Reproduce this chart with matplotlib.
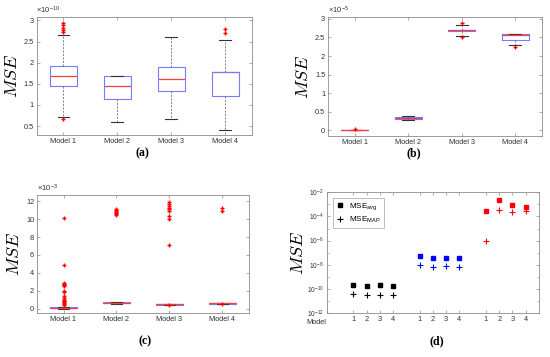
import matplotlib.pyplot as plt
import matplotlib.transforms as mtransforms
from matplotlib.ticker import FixedLocator, NullFormatter

plt.rcParams['font.family'] = ['Liberation Sans', 'DejaVu Sans']
plt.rcParams['mathtext.fontset'] = 'cm'

models = ['Model 1', 'Model 2', 'Model 3', 'Model 4']

# (a) box statistics, units of 1e-10
a_whislo = [0.72, 0.60, 0.67, 0.41]
a_q1 = [1.44, 1.13, 1.33, 1.22]
a_med = [1.68, 1.45, 1.62, 1.77]
a_q3 = [1.91, 1.68, 1.89, 1.77]
a_whishi = [2.65, 1.68, 2.61, 2.53]
a_fliers = [[2.94, 2.88, 2.83, 2.78, 2.73, 0.68], [], [], [2.80, 2.70]]

# (b) box statistics, units of 1e-5
b_whislo = [0.0, 0.28, 2.53, 2.29]
b_q1 = [0.0, 0.30, 2.68, 2.44]
b_med = [0.0, 0.33, 2.69, 2.57]
b_q3 = [0.005, 0.36, 2.70, 2.58]
b_whishi = [0.01, 0.38, 2.84, 2.58]
b_fliers = [[0.04], [], [2.89, 2.50], [2.24]]

# (c) box statistics, units of 1e-3
c_whislo = [0.0, 0.55, 0.44, 0.55]
c_q1 = [0.02, 0.58, 0.45, 0.56]
c_med = [0.08, 0.64, 0.47, 0.58]
c_q3 = [0.15, 0.70, 0.48, 0.59]
c_whishi = [0.20, 0.72, 0.50, 0.60]
c_fliers = [
    [10.1, 4.82, 2.9, 2.8, 2.7, 2.6, 2.5, 2.0, 1.9, 1.4, 1.2, 1.0, 0.9, 0.8, 0.7, 0.6, 0.5, 0.4],
    [10.5, 10.6, 10.7, 10.8, 10.9, 11.0, 11.1],
    [11.9, 11.7, 11.5, 11.3, 11.1, 10.9, 10.4, 10.0, 7.1, 0.42],
    [11.2, 10.9, 0.53],
]

# (d) MSE per model, three groups
d_ticks = ['1', '2', '3', '4']
d_avg = [
    [1.9e-10, 1.7e-10, 1.9e-10, 1.8e-10],
    [4.8e-8, 3.3e-8, 3.8e-8, 3.3e-8],
    [2.7e-4, 2.5e-3, 8.5e-4, 6.2e-4],
]
d_map = [
    [3.9e-11, 3.4e-11, 3.0e-11, 3.0e-11],
    [9.4e-9, 6.4e-9, 7.8e-9, 6.8e-9],
    [9.7e-7, 3.3e-4, 2.3e-4, 2.6e-4],
]
d_exps = [-12, -10, -8, -6, -4, -2]

TICK_FS = 5.3
GRAY = '#303030'
EDGE = '#8c8c8c'


def style_axes(ax):
    for s in ax.spines.values():
        s.set_color(EDGE)
        s.set_linewidth(0.6)
    ax.tick_params(direction='in', top=True, right=True, length=2,
                   width=0.5, color=EDGE, labelsize=TICK_FS,
                   labelcolor=GRAY, pad=2)
    ax.set_ylabel('$MSE$', fontsize=13, labelpad=2)


def draw_box(ax, whislo, q1, med, q3, whishi, fliers, med_z=2.1):
    stats = []
    for i, name in enumerate(models):
        stats.append(dict(label=name, whislo=whislo[i], q1=q1[i], med=med[i],
                          q3=q3[i], whishi=whishi[i], fliers=fliers[i]))
    ax.bxp(stats, widths=0.5, capwidths=0.22,
           boxprops=dict(color='#7a7aff', linewidth=0.8),
           medianprops=dict(color='#ff3b3b', linewidth=0.9, zorder=med_z),
           whiskerprops=dict(color='#555555', linewidth=0.5, linestyle=(0, (3, 2))),
           capprops=dict(color='#333333', linewidth=0.8),
           flierprops=dict(marker='+', color='red', markeredgecolor='red',
                           markerfacecolor='red', markersize=2.8,
                           markeredgewidth=1.0, linestyle='none', zorder=3))
    style_axes(ax)


def scale_text(ax, exp):
    ax.text(0.0, 1.01, r'$\mathregular{\times 10^{%d}}$' % exp,
            transform=ax.transAxes, fontsize=5.5, color=GRAY,
            ha='left', va='bottom')


fig = plt.figure(figsize=(5.5, 3.57), dpi=100)
W, H = 550, 357


def add_axes(l, r, t, b):
    return fig.add_axes([l / W, 1 - b / H, (r - l) / W, (b - t) / H])


# (a)
ax = add_axes(36.5, 252, 17, 135)
draw_box(ax, a_whislo, a_q1, a_med, a_q3, a_whishi, a_fliers, med_z=1.9)
ax.set_ylim(0.29, 3.08)
ax.set_yticks([0.5, 1, 1.5, 2, 2.5, 3])
ax.set_yticklabels(['0.5', '1', '1.5', '2', '2.5', '3'])
scale_text(ax, -10)

# (b)
ax = add_axes(328, 542, 17, 136)
draw_box(ax, b_whislo, b_q1, b_med, b_q3, b_whishi, b_fliers)
ax.set_ylim(-0.15, 3.05)
ax.set_yticks([0, 0.5, 1, 1.5, 2, 2.5, 3])
ax.set_yticklabels(['0', '0.5', '1', '1.5', '2', '2.5', '3'])
scale_text(ax, -5)

# (c)
ax = add_axes(37, 249, 195, 313)
draw_box(ax, c_whislo, c_q1, c_med, c_q3, c_whishi, c_fliers)
ax.set_ylim(-0.5, 12.7)
ax.set_yticks([0, 2, 4, 6, 8, 10, 12])
scale_text(ax, -3)

# (d)
ax = add_axes(326.7, 539, 192.3, 313)
colors = ['black', 'blue', 'red']
xt, xl = [-1], ['Model']
for g in range(3):
    xs = [5 * g + 1 + k for k in range(4)]
    xt += xs
    xl += d_ticks
    ax.plot(xs, d_avg[g], 's', color=colors[g], markersize=2.8,
            label=r'MSE$_{\mathregular{avg}}$' if g == 0 else None)
    ax.plot(xs, d_map[g], '+', color=colors[g], markersize=4.5,
            markeredgewidth=0.8,
            label=r'MSE$_{\mathregular{MAP}}$' if g == 0 else None)
ax.set_yscale('log')
ax.set_xlim(-1, 15)
ax.set_ylim(1e-12, 1e-2)
ax.yaxis.set_major_locator(FixedLocator([10.0 ** e for e in d_exps]))
ax.yaxis.set_minor_locator(FixedLocator([10.0 ** (e + 1) for e in d_exps[:-1]]))
ax.yaxis.set_minor_formatter(NullFormatter())
ax.set_yticklabels([r'$\mathregular{10^{%d}}$' % e for e in d_exps])
ax.set_xticks(xt)
ax.set_xticklabels(xl)
style_axes(ax)
ax.tick_params(axis='y', which='both', labelsize=4.8)
ax.tick_params(axis='y', which='minor', direction='in', length=1.2, right=True,
               width=0.4, color=EDGE)
lab0 = ax.get_xticklabels()[0]
lab0.set_horizontalalignment('right')
lab0.set_transform(lab0.get_transform() +
                   mtransforms.ScaledTranslation(0, -2 / 72, fig.dpi_scale_trans))
ax.set_ylabel('$MSE$', fontsize=13, labelpad=0)
leg = ax.legend(loc='upper left', fontsize=5.8, frameon=True, handlelength=1,
                handletextpad=0.6, borderpad=0.4, labelspacing=0.3,
                bbox_to_anchor=(0.01, 0.985))
leg.get_frame().set_edgecolor(EDGE)
leg.get_frame().set_linewidth(0.5)
leg.get_frame().set_boxstyle('square', pad=0)

# sub-figure labels
for x, y, t in [(142, 153, '(a)'), (414, 153, '(b)'),
                (145, 341, '(c)'), (437, 341, '(d)')]:
    fig.text(x / W, 1 - y / H, t, ha='center', va='center', fontsize=8.5,
             family='Liberation Serif', fontweight='bold')

fig.savefig('out.png', dpi=100)
